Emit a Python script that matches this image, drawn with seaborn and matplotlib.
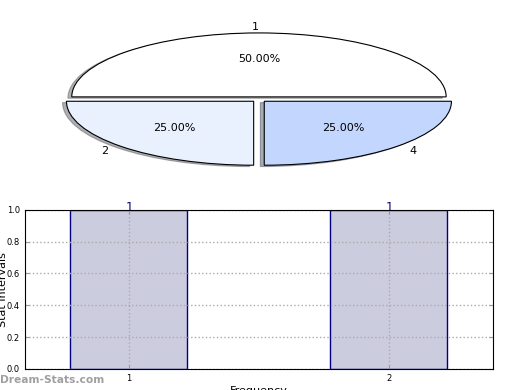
import matplotlib
matplotlib.use("Agg")
import matplotlib.pyplot as plt
import pandas as pd
import seaborn as sns

# pie data
pie_labels = ["1", "2", "4"]
pie_values = [2, 1, 1]
pie_colors = ["#ffffff", "#eaf1fe", "#c3d6fe"]

# bar data
bar_categories = ["1", "2"]
bar_values = [1, 1]


def main() -> None:
    sns.set_style("white")
    plt.rcParams["font.family"] = ["DejaVu Sans"]
    plt.rcParams["text.color"] = "black"
    plt.rcParams["axes.labelcolor"] = "black"
    plt.rcParams["xtick.color"] = "black"
    plt.rcParams["ytick.color"] = "black"

    fig = plt.figure(figsize=(5.2, 3.9), dpi=100)

    # top: squashed pie
    ax_pie = fig.add_axes([0.048, 0.540, 0.9, 0.41])
    ax_pie.pie(
        pie_values,
        labels=pie_labels,
        colors=pie_colors,
        autopct="%.2f%%",
        explode=[0.04, 0.04, 0.04],
        shadow={"ox": -0.015, "oy": -0.015, "shade": 0.6},
        startangle=0,
        counterclock=True,
        wedgeprops={"edgecolor": "black", "linewidth": 0.8},
        textprops={"fontsize": 8, "color": "black"},
    )
    ax_pie.set_aspect("auto")
    ax_pie.set_xlim(-1.25, 1.25)
    ax_pie.set_ylim(-1.25, 1.25)
    ax_pie.axis("off")

    # bottom: bar chart
    ax = fig.add_axes([0.048, 0.054, 0.9, 0.408])
    df = pd.DataFrame({"Frequency": bar_categories, "Stat Intervals": bar_values})
    sns.barplot(
        data=df,
        x="Frequency",
        y="Stat Intervals",
        color="#ccccdf",
        saturation=1,
        width=0.45,
        edgecolor="#000080",
        linewidth=1,
        ax=ax,
        zorder=1,
    )
    for patch in ax.patches:
        patch.set_facecolor("#ccccdf")
    ax.bar_label(ax.containers[0], labels=[str(v) for v in bar_values],
                 color="#000080", fontsize=8.5, padding=-3)
    ax.set_xlim(-0.4, 1.4)
    ax.set_ylim(0, 1.0)
    ax.set_yticks([0.0, 0.2, 0.4, 0.6, 0.8, 1.0])
    ax.set_yticklabels(["0.0", "0.2", "0.4", "0.6", "0.8", "1.0"])
    ax.tick_params(axis="both", labelsize=6, direction="in", length=3,
                   color="#999999", right=True, top=True, left=True, bottom=True)
    ax.grid(True, linestyle=":", color="#aaaaaa", linewidth=1)
    ax.set_axisbelow("line")
    for s in ax.spines.values():
        s.set_color("black")
        s.set_linewidth(0.8)
        s.set_zorder(3)
    ax.set_xlabel("Frequency", fontsize=8, labelpad=2)
    ax.set_ylabel("Stat Intervals", fontsize=8, labelpad=-1)

    fig.text(0.0, 0.012, "Dream-Stats.com", fontsize=7.7, color="#a0a0a0",
             fontweight="bold", ha="left", va="bottom")

    fig.savefig("out.png", dpi=100)
    plt.close(fig)


if __name__ == "__main__":
    main()
